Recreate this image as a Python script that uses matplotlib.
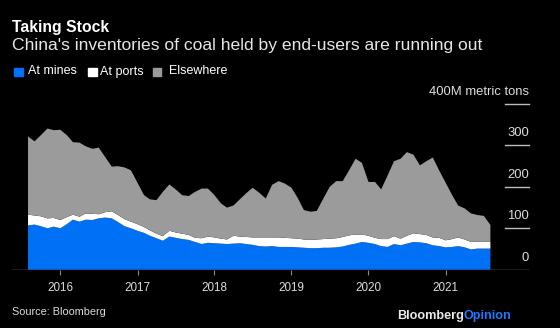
import matplotlib
matplotlib.use("Agg")
import matplotlib.pyplot as plt
import matplotlib.patches as mpatches
import pandas as pd

plt.rcParams['font.family'] = ['Liberation Sans', 'DejaVu Sans']

# ---------------- data (million metric tons, monthly) ----------------
dates = pd.date_range('2015-08-01', periods=73, freq='MS')
at_mines = [107, 109, 105, 100, 104, 100, 110, 121, 116, 121, 120, 124, 126, 124, 115, 105,
            100, 94, 89, 82, 76, 70, 80, 77, 74, 72, 67, 62, 65, 64, 63, 62, 63, 64, 62, 60,
            57, 56, 57, 55, 55, 55, 54, 53, 52, 52, 53, 53, 54, 56, 60, 63, 67, 65, 62, 57,
            55, 62, 59, 63, 67, 66, 64, 59, 57, 54, 55, 57, 54, 49, 51, 51, 51]
at_ports = [26, 22, 24, 24, 21, 20, 17, 12, 12, 15, 15, 10, 13, 17, 17, 17,
            16, 16, 14, 13, 11, 11, 14, 13, 13, 12, 10, 14, 15, 14, 12, 11, 19, 16, 17, 18,
            21, 22, 21, 23, 22, 21, 21, 20, 20, 21, 21, 22, 22, 23, 23, 22, 18, 17, 15, 17,
            19, 19, 16, 19, 21, 20, 20, 19, 20, 17, 19, 21, 19, 18, 17, 17, 16]
elsewhere = [189, 179, 196, 217, 212, 218, 198, 175, 179, 162, 157, 161, 133, 108, 118, 125,
             124, 100, 77, 75, 81, 107, 112, 104, 93, 94, 111, 120, 116, 102, 85, 77, 73, 90, 106, 120,
             108, 94, 127, 136, 131, 122, 97, 71, 68, 69, 98, 125, 138, 135, 157, 183, 173, 130, 135, 120,
             154, 181, 193, 202, 190, 166, 178, 193, 163, 139, 106, 77, 75, 69, 64, 62, 41]
series_names = ['At mines', 'At ports', 'Elsewhere']
year_ticks = ['2016', '2017', '2018', '2019', '2020', '2021']
y_ticks = [0, 100, 200, 300, 400]
y_labels = ['0', '100', '200', '300', '400M metric tons']

# ---------------- style ----------------
BG = '#000000'
BLUE = '#0070f5'
WHITE = '#ffffff'
GRAY = '#9b9b9b'
TXT = '#dcdcdc'

W, H = 560, 328
fig = plt.figure(figsize=(W / 100, H / 100), dpi=100, facecolor=BG)

def fx(px):
    return px / W

def fy(py):
    return 1 - py / H

ax_l, ax_r, ax_top, ax_bot = 12, 529, 104.1, 269.7
ax = fig.add_axes([fx(ax_l), fy(ax_bot), fx(ax_r - ax_l), fy(ax_top) - fy(ax_bot)])
ax.set_facecolor(BG)

ax.stackplot(dates, at_mines, at_ports, elsewhere, colors=[BLUE, WHITE, GRAY],
             linewidth=0, zorder=2)

ax.set_ylim(0, 400)
ax.set_xlim(pd.Timestamp('2015-05-17'), pd.Timestamp('2022-01-31'))

for s in ax.spines.values():
    s.set_visible(False)

# baseline
ax.axhline(0, color='#8a8a8a', lw=1.0, zorder=1)

# right-side short gridlines and labels
gx0 = (505 - ax_l) / (ax_r - ax_l)
ytr = ax.get_yaxis_transform()
for v, lab in zip(y_ticks, y_labels):
    if v > 0:
        ax.plot([gx0, 1.0], [v, v], transform=ytr, color='#bdbdbd', lw=1.0, zorder=3,
                clip_on=False)
    ax.text(1.0, v + 12 / 0.414, lab, transform=ytr, ha='right', va='center',
            color=TXT, fontsize=9.4)

ax.set_yticks([])
ax.set_xticks([pd.Timestamp(f'{y}-01-01') for y in year_ticks])
ax.set_xticklabels(year_ticks)
ax.tick_params(axis='x', direction='out', length=3.3, width=0.8, color='#8a8a8a',
               labelcolor=TXT, labelsize=8.4, pad=5.5)

# ---------------- titles & legend ----------------
fig.text(fx(12), fy(32), 'Taking Stock', color='white', fontsize=11.3, fontweight='bold',
         va='baseline', ha='left')
fig.text(fx(12), fy(50), "China's inventories of coal held by end-users are running out",
         color='#e6e6e6', fontsize=12.6, va='baseline', ha='left')

leg_items = [(14, 28.5, BLUE), (88, 100.5, WHITE), (153, 168.5, GRAY)]
for (sx, tx, c), name in zip(leg_items, series_names):
    fig.patches.append(mpatches.Rectangle((fx(sx), fy(76)), fx(8.5), 8.5 / H,
                                          transform=fig.transFigure, color=c))
    fig.text(fx(tx), fy(71.5), name, color='white', fontsize=9.0, va='center', ha='left')

fig.text(fx(12), fy(312), 'Source: Bloomberg', color=TXT, fontsize=7.8, va='center', ha='left')

t1 = fig.text(fx(397), fy(316), 'Bloomberg', color='#e8e8e8', fontsize=9.1,
              fontweight='bold', va='center', ha='left')
fig.canvas.draw()
bb = t1.get_window_extent()
fig.text(bb.x1 / W, fy(316), 'Opinion', color='#1f78ff', fontsize=9.1, fontweight='bold',
         va='center', ha='left')

fig.savefig('out.png', dpi=100, facecolor=BG)
